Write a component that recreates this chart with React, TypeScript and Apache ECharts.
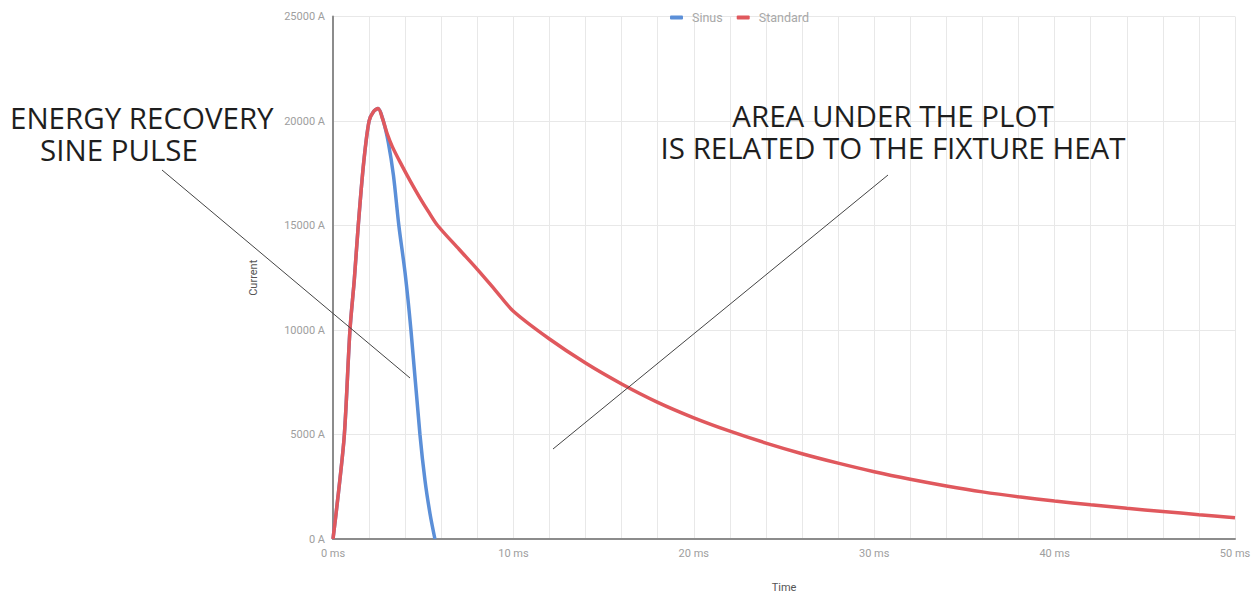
import React, { useEffect, useRef } from "react";
import * as echarts from "echarts";

const seriesNames = ["Sinus", "Standard"];

// time in ms, current in A
const sinusTime = [0, 0.3, 0.63, 0.94, 1.18, 1.4, 1.7, 2.0, 2.25, 2.5, 2.79, 3.07, 3.35, 3.65, 4.0, 4.32, 4.82, 5.1, 5.38, 5.65];
const sinusCurrent = [0, 2200, 5000, 10000, 12400, 15000, 18000, 20000, 20450, 20600, 20000, 18950, 17400, 15000, 12700, 10000, 5000, 2800, 1200, 0];

const standardTime = [0, 0.3, 0.63, 0.94, 1.18, 1.4, 1.7, 2.0, 2.25, 2.5, 2.75, 3.0, 3.3, 3.8, 4.3, 4.8, 5.3, 5.8, 7, 8, 9, 10, 12, 14, 16, 18, 20, 22, 24, 26, 28, 30, 32, 34, 36, 38, 40, 42, 44, 46, 48, 50];
const standardCurrent = [0, 2200, 5000, 10000, 12400, 15000, 18000, 20000, 20450, 20600, 20100, 19400, 18750, 17900, 17100, 16350, 15650, 15000, 13850, 12900, 11900, 10900, 9570, 8420, 7420, 6540, 5800, 5160, 4590, 4080, 3630, 3220, 2860, 2540, 2255, 2020, 1820, 1635, 1470, 1315, 1165, 1020];

const yTicks = { min: 0, max: 25000, interval: 5000 };
const xTicks = { min: 0, max: 50, interval: 10 };

const annotationLeft = ["ENERGY RECOVERY", "SINE PULSE"];
const annotationRight = ["AREA UNDER THE PLOT", "IS RELATED TO THE FIXTURE HEAT"];

export default function App() {
  const ref = useRef<HTMLDivElement>(null);
  useEffect(() => {
    if (!ref.current) return;
    const chart = echarts.init(ref.current, undefined, { renderer: "svg" });
    const labelColor = "#9e9e9e";
    const gridColor = "#e8e8e8";
    const annFont = { fontFamily: "Open Sans", fontSize: 29.5, fill: "#1e1e1e" };
    chart.setOption({
      animation: false,
      backgroundColor: "#fff",
      textStyle: { fontFamily: "Roboto" },
      legend: {
        data: seriesNames,
        left: 665,
        top: 6,
        itemWidth: 13,
        itemHeight: 4,
        itemGap: 14,
        icon: "roundRect",
        textStyle: { color: "#a8a8a8", fontSize: 12.5, fontFamily: "Roboto", padding: [0, 0, 0, 4] },
      },
      grid: { left: 333, right: 22, top: 16.5, bottom: 54, containLabel: false, outerBoundsMode: "none" },
      xAxis: {
        type: "value",
        min: xTicks.min,
        max: xTicks.max,
        interval: xTicks.interval,
        name: "Time",
        nameLocation: "middle",
        nameGap: 43,
        nameTextStyle: { color: "#555", fontSize: 11, fontFamily: "Roboto" },
        axisLine: { show: true, lineStyle: { color: "#8c8c8c", width: 2 } },
        axisTick: { show: false },
        axisLabel: { formatter: (v: number) => `${v} ms`, color: labelColor, fontSize: 11, margin: 9 },
        splitLine: { show: true, lineStyle: { color: gridColor, width: 1 } },
        minorTick: { show: false, splitNumber: 5 },
        minorSplitLine: { show: true, lineStyle: { color: gridColor, width: 1 } },
      },
      yAxis: {
        type: "value",
        min: yTicks.min,
        max: yTicks.max,
        interval: yTicks.interval,
        name: "Current",
        nameLocation: "middle",
        nameGap: 74,
        nameRotate: 90,
        nameTextStyle: { color: "#555", fontSize: 11, fontFamily: "Roboto" },
        axisLine: { show: true, lineStyle: { color: "#8c8c8c", width: 2 } },
        axisTick: { show: false },
        axisLabel: { formatter: (v: number) => `${v} A`, color: labelColor, fontSize: 11, margin: 8 },
        splitLine: { show: true, lineStyle: { color: gridColor, width: 1 } },
      },
      series: [
        {
          name: seriesNames[0],
          type: "line",
          data: sinusTime.map((t, i) => [t, sinusCurrent[i]]),
          smooth: 0.3,
          showSymbol: false,
          itemStyle: { color: "#5b8fd8" },
          lineStyle: { color: "#5b8fd8", width: 3.5 },
          z: 2,
        },
        {
          name: seriesNames[1],
          type: "line",
          data: standardTime.map((t, i) => [t, standardCurrent[i]]),
          smooth: 0.3,
          showSymbol: false,
          itemStyle: { color: "#e0585d" },
          lineStyle: { color: "#e0585d", width: 3.5 },
          z: 3,
        },
      ],
      graphic: [
        {
          type: "text",
          left: 10,
          top: 102,
          z: 100,
          style: {
            text: `{a|${annotationLeft[0]}}\n{b|${annotationLeft[1]}}`,
            ...annFont,
            rich: {
              a: { ...annFont, lineHeight: 32 },
              b: { ...annFont, lineHeight: 32, padding: [0, 0, 0, 30] },
            },
          },
        },
        {
          type: "text",
          x: 893,
          y: 99,
          z: 100,
          style: {
            text: `${annotationRight[0]}\n${annotationRight[1]}`,
            textAlign: "center",
            lineHeight: 32,
            ...annFont,
          },
        },
        { type: "line", z: 100, shape: { x1: 162, y1: 170, x2: 410, y2: 378 }, style: { stroke: "#444", lineWidth: 1 } },
        { type: "line", z: 100, shape: { x1: 553, y1: 449, x2: 888, y2: 175 }, style: { stroke: "#444", lineWidth: 1 } },
      ],
    });
    return () => chart.dispose();
  }, []);
  return <div ref={ref} style={{ position: "fixed", left: 0, top: 0, width: 1257, height: 593 }} />;
}
